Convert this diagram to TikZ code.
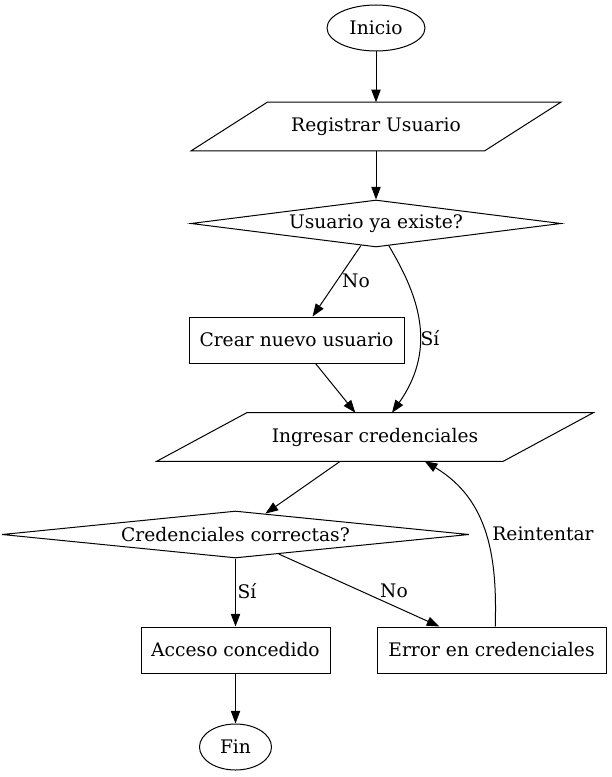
\documentclass[tikz,border=0pt]{standalone}
\usepackage{fontspec}
\setmainfont{DejaVu Serif}
\usetikzlibrary{shapes.geometric,arrows.meta}

\tikzset{
  inicio/.style={ellipse, draw, line width=0.75pt, inner sep=0pt, minimum height=34.5pt},
  entrada/.style={rectangle, inner sep=0pt, minimum height=36pt},
  decision/.style={diamond, draw, line width=0.75pt, inner sep=0pt, aspect=8, minimum height=35.25pt},
  proceso/.style={rectangle, draw, line width=0.75pt, inner sep=0pt, minimum height=34.5pt},
  flecha/.style={line width=0.75pt, -{Triangle[length=9.5pt, width=7pt]}},
  etiqueta/.style={inner sep=0pt}
}
% paralelogramo alrededor de un nodo: #1 nombre, #2 medio desplazamiento
\newcommand{\paralelo}[2]{%
  \draw[line width=0.75pt, line join=miter] ([xshift=-#2]#1.south west) -- ([xshift=-#2]#1.south east)
    -- ([xshift=#2]#1.north east) -- ([xshift=#2]#1.north west) -- cycle;}

\begin{document}
\begin{tikzpicture}[x=0.75pt, y=-0.75pt, font=\fontsize{14}{17}\selectfont]
            \useasboundingbox (0,0) rectangle (611,777);

            % Nodos
            \node[inicio, minimum width=73.5pt] (ini) at (376,28) {Inicio};
            \node[entrada, minimum width=219.75pt] (registrar) at (376,126.5) {Registrar Usuario};
            \node[decision, minimum width=277.5pt] (existe) at (376,223.5) {Usuario ya existe?};
            \node[proceso, minimum width=161.25pt] (crear) at (296.5,340) {Crear nuevo usuario};
            \node[entrada, minimum width=259.5pt] (ingresar) at (375,437) {Ingresar credenciales};
            \node[decision, aspect=10, minimum width=350.25pt] (correctas) at (235.5,534.5) {Credenciales correctas?};
            \node[proceso, minimum width=141.75pt] (acceso) at (235.5,650) {Acceso concedido};
            \node[proceso, minimum width=171.75pt] (error) at (491.5,650) {Error en credenciales};
            \node[inicio, minimum width=54pt] (fin) at (235.5,747) {Fin};

            % Paralelogramos
            \paralelo{registrar}{28.5pt}
            \paralelo{ingresar}{33.75pt}

            % Flechas
            \draw[flecha] (ini) -- (registrar);
            \draw[flecha] (registrar) -- (existe);
            \draw[flecha] (existe) -- (crear);
            \draw[flecha] (existe.-60) .. controls +(26,44) and +(48,-68) .. (ingresar.55);
            \draw[flecha] (crear) -- (ingresar);
            \draw[flecha] (ingresar) -- (correctas);
            \draw[flecha] (correctas) -- (acceso);
            \draw[flecha] (correctas) -- (error);
            \draw[flecha] (error.81) .. controls +(2,-67) and +(65,39) .. (ingresar.-26);
            \draw[flecha] (acceso) -- (fin);

            % Etiquetas
            \node[etiqueta] (eNo1) at (356,281) {No};
            \node[etiqueta] (eSi1) at (430,338) {Sí};
            \node[etiqueta] (eSi2) at (247,591) {Sí};
            \node[etiqueta] (eNo2) at (394,591) {No};
            \node[etiqueta] (eRe) at (543,534) {Reintentar};

        \end{tikzpicture}
\end{document}
